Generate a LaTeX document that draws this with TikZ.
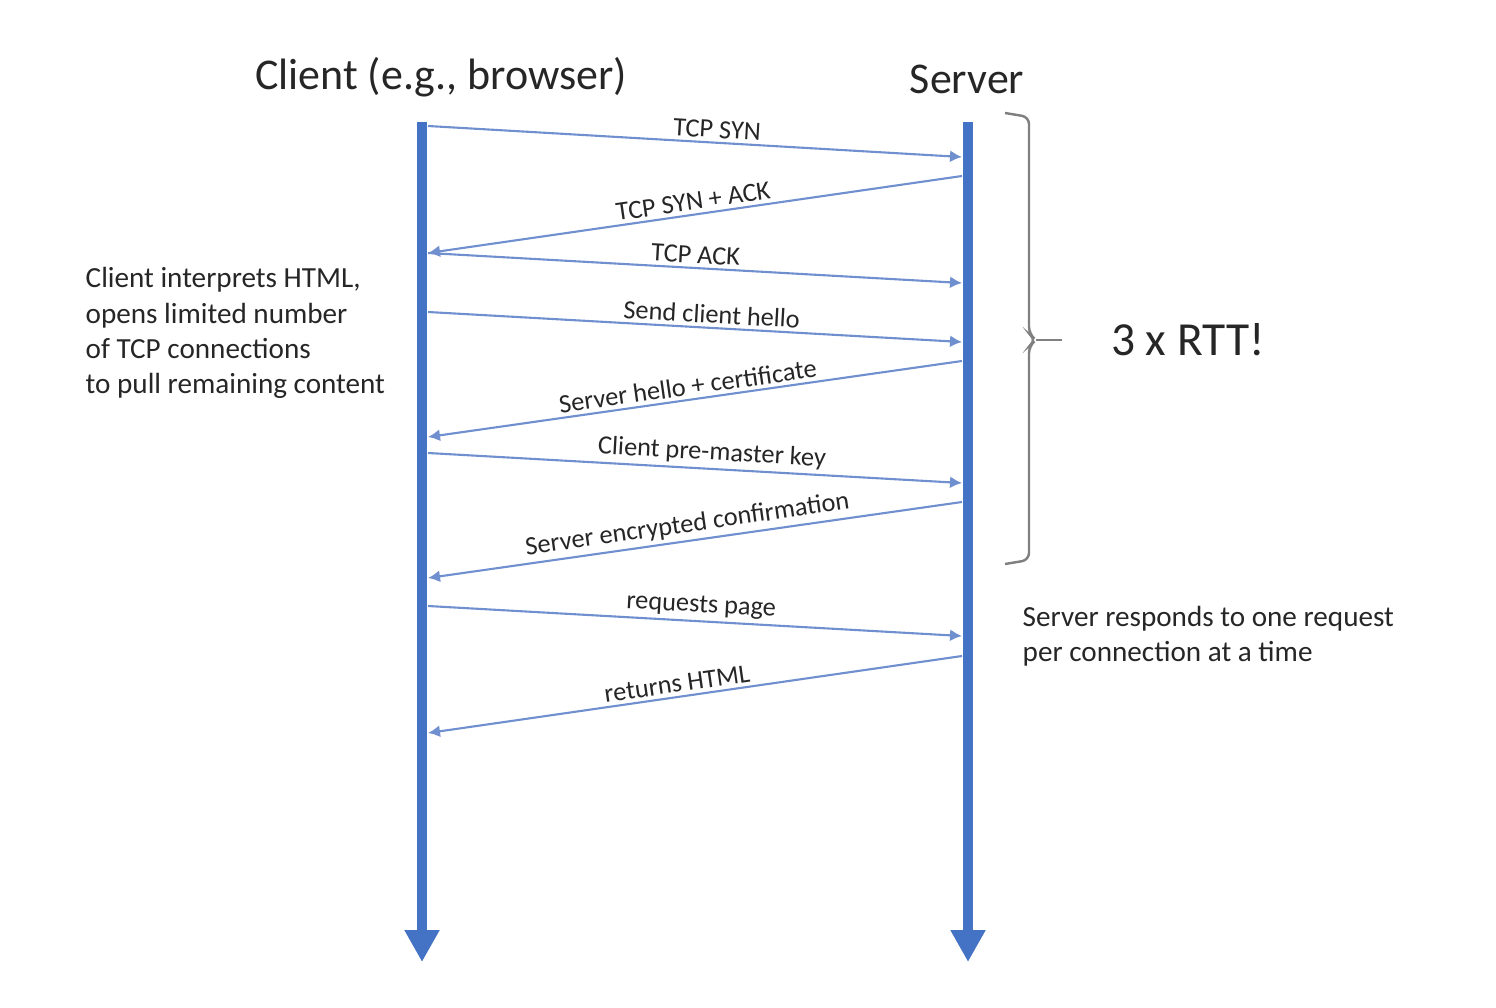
\documentclass[tikz,border=0pt]{standalone}
\usepackage{fontspec}
\setmainfont{Carlito}
\usepackage{xcolor}
\usepackage{tikz}
\usetikzlibrary{arrows.meta,positioning}
\definecolor{lifeblue}{HTML}{4472C4}
\definecolor{msgblue}{HTML}{6F8FCF}
\definecolor{txtgray}{HTML}{262626}

\begin{document}
\begin{tikzpicture}[>=Latex]
	\tikzstyle{life}=[line width=2.8pt,lifeblue,-{Triangle[length=0.32cm,width=0.33cm]}]
	\tikzstyle{msg}=[line width=0.6pt,msgblue,-{Latex[length=1.2mm,width=1.2mm]}]
	\tikzstyle{lbl}=[text=txtgray,font=\fontsize{7.5}{9}\selectfont,sloped,above,inner sep=1pt]
	\tikzstyle{note}=[text=txtgray,font=\fontsize{8.3}{10}\selectfont,align=left,inner sep=0pt]
	\tikzstyle{head}=[text=txtgray,font=\fontsize{12.5}{15}\selectfont]
	\useasboundingbox (0,0) rectangle (14.96,-10.08);
	% the two parties
	\node[head] (client) at (4.41,-0.77) {Client (e.g., browser)};
	\node[head] (server) at (9.67,-0.79) {Server};
	\coordinate (ctop) at (4.22,-1.22);
	\coordinate (cbot) at (4.22,-9.62);
	\coordinate (stop) at (9.68,-1.22);
	\coordinate (sbot) at (9.68,-9.62);
	\draw[life] (ctop)--(cbot);
	\draw[life] (stop)--(sbot);
	% message end points
	\coordinate (c1) at (4.28,-1.26);  \coordinate (s1) at (9.62,-1.57);
	\coordinate (s2) at (9.62,-1.76);  \coordinate (c2) at (4.28,-2.53);
	\coordinate (c3) at (4.28,-2.53);  \coordinate (s3) at (9.62,-2.83);
	\coordinate (c4) at (4.28,-3.12);  \coordinate (s4) at (9.62,-3.42);
	\coordinate (s5) at (9.62,-3.61);  \coordinate (c5) at (4.28,-4.37);
	\coordinate (c6) at (4.28,-4.53);  \coordinate (s6) at (9.62,-4.83);
	\coordinate (s7) at (9.62,-5.02);  \coordinate (c7) at (4.28,-5.78);
	\coordinate (c8) at (4.28,-6.06);  \coordinate (s8) at (9.62,-6.36);
	\coordinate (s9) at (9.62,-6.56);  \coordinate (c9) at (4.28,-7.33);
	% messages
	\draw[msg] (c1)--node[lbl,pos=0.54] {TCP SYN} (s1);
	\draw[msg] (s2)--node[lbl,pos=0.5] {TCP SYN + ACK} (c2);
	\draw[msg] (c3)--node[lbl,pos=0.5] {TCP ACK} (s3);
	\draw[msg] (c4)--node[lbl,pos=0.53] {Send client hello} (s4);
	\draw[msg] (s5)--node[lbl,pos=0.51] {Server hello + certificate} (c5);
	\draw[msg] (c6)--node[lbl,pos=0.53] {Client pre-master key} (s6);
	\draw[msg] (s7)--node[lbl,pos=0.51] {Server encrypted confirmation} (c7);
	\draw[msg] (c8)--node[lbl,pos=0.51] {requests page} (s8);
	\draw[msg] (s9)--node[lbl,pos=0.53] {returns HTML} (c9);
	% brace over the handshakes
	\coordinate (btop) at (10.05,-1.13);
	\coordinate (bbot) at (10.05,-5.64);
	\coordinate (btip) at (10.36,-3.40);
	\draw[gray,line width=0.7pt,rounded corners=2pt] (btop)--(10.29,-1.17)--(10.29,-3.34)--(btip)--(10.29,-3.46)--(10.29,-5.60)--(bbot);
	\node[text=txtgray,font=\fontsize{13.5}{16}\selectfont] (rtt) at (11.88,-3.40) {3 x RTT!};
	\coordinate (bend) at (10.62,-3.40);
	\draw[gray,line width=0.7pt] (btip)--(bend);
	% side notes
	\node[note,anchor=west] (cnote) at (0.85,-3.33) {Client interprets HTML,\\opens limited number\\of TCP connections\\to pull remaining content};
	\node[note,anchor=west] (snote) at (10.22,-6.36) {Server responds to one request\\per connection at a time};
\end{tikzpicture}
\end{document}
